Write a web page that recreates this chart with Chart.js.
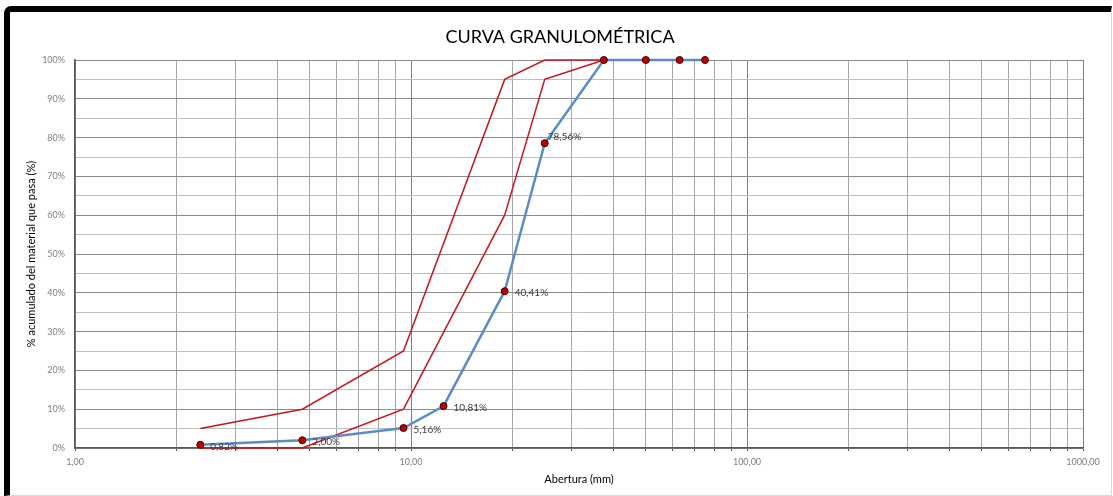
<!DOCTYPE html>
<html>
<head>
<meta charset="utf-8">
<title>Curva granulométrica</title>
<script src="https://cdn.jsdelivr.net/npm/chart.js@4"></script>
<style>
  html, body { margin: 0; padding: 0; background: #fff; }
  #marco {
    position: absolute; left: 4px; top: 6px; width: 1108px; height: 490px;
    box-sizing: border-box;
    border-top: 6px solid #000; border-left: 6px solid #000;
    border-right: 1px solid #d9d9d9; border-bottom: 1px solid #d9d9d9;
    border-top-left-radius: 7px;
  }
  #grafico { position: absolute; left: 0; top: 0; }
</style>
</head>
<body>
<div id="marco"></div>
<canvas id="grafico" width="1113" height="496"></canvas>
<script>
'use strict';

// tamices (mm) y % que pasa
const aberturas = [2.36, 4.75, 9.5, 12.5, 19, 25, 37.5, 50, 63, 75];
const pasa = [0.82, 2.00, 5.16, 10.81, 40.41, 78.56, 100, 100, 100, 100];

// huso granulométrico
const husoAberturas = [2.36, 4.75, 9.5, 19, 25, 37.5];
const husoSuperior = [5, 10, 25, 95, 100, 100];
const husoInferior = [0, 0, 10, 60, 95, 100];

// ejes
const decadas = [1, 10, 100, 1000];
const decadasEtiquetas = ['1,00', '10,00', '100,00', '1000,00'];

function puntos(xs, ys) {
  return xs.map((x, i) => ({x: x, y: ys[i]}));
}

function formatoPct(v) {
  return v.toFixed(2).replace('.', ',') + '%';
}

// lineas de grilla 1..9 por cada decada
function ticksLog() {
  let out = [];
  for (let d = 0; d < decadas.length - 1; d++) {
    for (let k = 1; k < 10; k++) out.push(decadas[d] * k);
  }
  out.push(decadas[decadas.length - 1]);
  return out;
}

const etiquetas = {
  id: 'etiquetas',
  afterDatasetsDraw(chart) {
    const meta = chart.getDatasetMeta(0);
    const ctx = chart.ctx;
    ctx.save();
    ctx.font = '10px Lato';
    ctx.fillStyle = '#404040';
    ctx.textBaseline = 'middle';
    meta.data.forEach((pt, i) => {
      const v = pasa[i];
      if (v >= 100) return;
      const arriba = v > 50;
      ctx.fillText(formatoPct(v), pt.x + (arriba ? 3 : 10), pt.y + (arriba ? -6 : 2));
    });
    ctx.restore();
  }
};

Chart.defaults.font.family = 'Lato';

new Chart(document.getElementById('grafico'), {
  type: 'scatter',
  data: {
    datasets: [{
      label: 'Muestra',
      data: puntos(aberturas, pasa),
      showLine: true,
      clip: false,
      borderColor: '#5b8cc9',
      borderWidth: 2.5,
      pointRadius: 3.5,
      pointBackgroundColor: '#c00000',
      pointBorderColor: '#3a0000',
      pointBorderWidth: 1,
    }, {
      label: 'Límite superior',
      data: puntos(husoAberturas, husoSuperior),
      showLine: true,
      clip: false,
      borderColor: '#c8161d',
      borderWidth: 1.5,
      pointRadius: 0,
    }, {
      label: 'Límite inferior',
      data: puntos(husoAberturas, husoInferior),
      showLine: true,
      clip: false,
      borderColor: '#c8161d',
      borderWidth: 1.5,
      pointRadius: 0,
    }]
  },
  options: {
    responsive: false,
    animation: false,
    layout: { padding: { left: 37, right: 30, top: 0, bottom: 0 } },
    plugins: {
      legend: { display: false },
      tooltip: { enabled: false },
      title: {
        display: true,
        text: 'CURVA GRANULOMÉTRICA',
        color: '#000',
        font: { size: 18, weight: 'normal' },
        padding: { top: 26.5, bottom: 11.9 },
      }
    },
    scales: {
      x: {
        type: 'logarithmic',
        min: 1,
        max: 1000,
        afterBuildTicks: axis => { axis.ticks = ticksLog().map(v => ({value: v})); },
        afterFit: axis => { axis.height = 48; },
        ticks: {
          autoSkip: false,
          maxRotation: 0,
          padding: 5.5,
          color: '#7f7f7f',
          font: { size: 9 },
          callback: v => {
            const i = decadas.indexOf(v);
            return i >= 0 ? decadasEtiquetas[i] : '';
          }
        },
        grid: {
          color: ctx => decadas.includes(ctx.tick && ctx.tick.value) ? '#808080' : '#a6a6a6',
          lineWidth: 1,
          drawTicks: true,
          tickLength: 3,
          tickColor: '#595959',
        },
        border: { color: '#595959', width: 1.5 },
        title: {
          display: true,
          text: 'Abertura (mm)',
          color: '#000',
          font: { size: 11 },
          padding: { top: 0, bottom: 10.4 },
        }
      },
      y: {
        min: 0,
        max: 100,
        afterFit: axis => { axis.width = 38; },
        ticks: {
          stepSize: 5,
          padding: 10,
          color: '#7f7f7f',
          font: { size: 9 },
          callback: v => (v % 10 === 0 ? v + '%' : '')
        },
        grid: {
          color: ctx => (ctx.tick && ctx.tick.value % 10 === 0) ? '#8c8c8c' : '#bfbfbf',
          lineWidth: 1,
          drawTicks: false,
        },
        border: { color: '#595959', width: 1.5 },
        title: {
          display: true,
          text: '% acumulado del material que pasa (%)',
          color: '#000',
          font: { size: 11 },
          padding: { top: -12.6, bottom: 0 },
        }
      }
    }
  },
  plugins: [etiquetas]
});
</script>
</body>
</html>
